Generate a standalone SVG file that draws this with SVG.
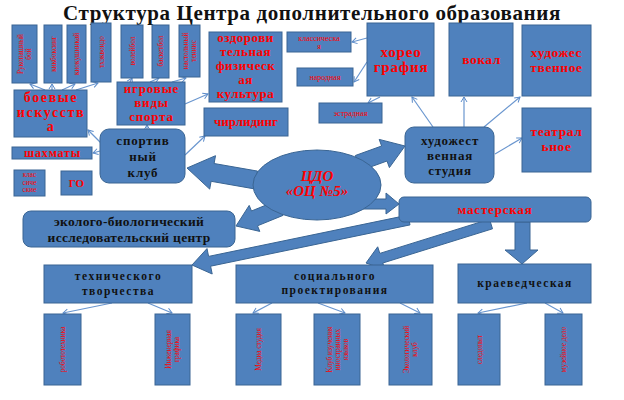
<svg xmlns="http://www.w3.org/2000/svg" width="624" height="400" viewBox="0 0 624 400">
<defs>
<marker id="ah" markerWidth="8" markerHeight="8" refX="6" refY="4" orient="auto" markerUnits="userSpaceOnUse">
<path d="M1,1 L6,4 L1,7" fill="none" stroke="#5b8bc9" stroke-width="1"/>
</marker>
<style>
.b{fill:#4f81bd;stroke:#3a6593;stroke-width:1}
.ba{fill:#4f81bd;stroke:#3a6593;stroke-width:1}
.c{fill:none;stroke:#6a96cf;stroke-width:1.2;marker-end:url(#ah)}
.r{font-family:"Liberation Serif","DejaVu Serif",serif;font-weight:bold;fill:#ff0000;text-anchor:middle}
.k{font-family:"Liberation Serif","DejaVu Serif",serif;font-weight:bold;fill:#111111;text-anchor:middle}
.s{font-family:"Liberation Serif","DejaVu Serif",serif;fill:#ff0000;text-anchor:middle;font-size:7.3px}
.h{font-family:"Liberation Serif","DejaVu Serif",serif;fill:#ff0000;text-anchor:middle;font-size:8px}
</style>
</defs>
<rect width="624" height="400" fill="#ffffff"/>
<text x="312" y="20" class="k" font-size="21" letter-spacing="0.6">Структура Центра дополнительного образования</text>

<g id="connectors">
<line class="c" x1="45" y1="90" x2="30" y2="84"/>
<line class="c" x1="52" y1="90" x2="52" y2="84"/>
<line class="c" x1="62" y1="90" x2="75" y2="84"/>
<line class="c" x1="76" y1="90" x2="98" y2="83"/>
<line class="c" x1="130" y1="82" x2="132" y2="78"/>
<line class="c" x1="150" y1="82" x2="159" y2="78"/>
<line class="c" x1="172" y1="82" x2="186" y2="78"/>
<line class="c" x1="104" y1="146" x2="88" y2="130"/>
<line class="c" x1="147" y1="129" x2="147" y2="125"/>
<line class="c" x1="185" y1="104" x2="208" y2="94"/>
<line class="c" x1="185" y1="155" x2="205" y2="136"/>
<line class="c" x1="100" y1="151" x2="93" y2="153"/>
<line class="c" x1="367" y1="38" x2="352" y2="42"/>
<line class="c" x1="367" y1="62" x2="354" y2="82"/>
<line class="c" x1="380" y1="97" x2="368" y2="103"/>
<line class="c" x1="433" y1="127" x2="412" y2="97"/>
<line class="c" x1="464" y1="127" x2="464" y2="97"/>
<line class="c" x1="484" y1="127" x2="520" y2="97"/>
<line class="c" x1="495" y1="154" x2="522" y2="138"/>
<line class="c" x1="112" y1="303" x2="63" y2="313"/>
<line class="c" x1="148" y1="303" x2="172" y2="313"/>
<line class="c" x1="272" y1="303" x2="253" y2="313"/>
<line class="c" x1="318" y1="303" x2="345" y2="313"/>
<line class="c" x1="400" y1="303" x2="420" y2="313"/>
<line class="c" x1="527" y1="303" x2="478" y2="313"/>
<line class="c" x1="545" y1="303" x2="563" y2="313"/>
<polygon class="ba" points="257.5,171.1 214.1,163.5 215.5,155.7 187,168 209.7,189.1 211.1,181.3 254.5,188.9"/>
<polygon class="ba" points="355.3,155.5 381.6,146 379.2,139.4 405,146 389.4,167.6 387,161 360.7,170.5"/>
<polygon class="ba" points="360,199 386,199 386,193 399,204 386,214 386,209 360,209"/>
<polygon class="ba" points="283,215.4 257.5,225.8 259.8,231.4 236,226 249.2,205.4 251.5,211 277,200.6"/>
<polygon class="ba" points="410,224.9 210.6,266.2 212.2,274 192,265 207,248.6 208.6,256.4 408,215.1"/>
<polygon class="ba" points="492.5,228.8 382.8,263 384.9,269.6 366,263 377.7,246.8 379.8,253.4 489.5,219.2"/>
<polygon class="ba" points="515,222 530,222 530,250 538,250 522,264 505,250 515,250"/>
</g>

<g id="n-ruk"><rect class="b" x="12" y="25" width="25" height="58"/>
<text class="s" transform="translate(24.5,54) rotate(-90)"><tspan x="0" y="-1.5">Рукопашный</tspan><tspan x="0" y="6.5">бой</tspan></text></g>
<g id="n-kik"><rect class="b" x="44" y="25" width="18" height="58"/>
<text class="s" transform="translate(53,54) rotate(-90)"><tspan x="0" y="2.5">кикбоксинг</tspan></text></g>
<g id="n-kio"><rect class="b" x="67" y="25" width="19" height="58"/>
<text class="s" transform="translate(76.5,54) rotate(-90)"><tspan x="0" y="2.5">киокушинкай</tspan></text></g>
<g id="n-tkh"><rect class="b" x="91" y="23" width="20" height="59"/>
<text class="s" transform="translate(101,52) rotate(-90)"><tspan x="0" y="2.5">тхэквондо</tspan></text></g>
<g id="n-vol"><rect class="b" x="121" y="25" width="22" height="53"/>
<text class="s" transform="translate(132,51) rotate(-90)"><tspan x="0" y="2.5">волейбол</tspan></text></g>
<g id="n-bas"><rect class="b" x="152" y="25" width="17" height="53"/>
<text class="s" transform="translate(160.5,51) rotate(-90)"><tspan x="0" y="2.5">баскетбол</tspan></text></g>
<g id="n-ten"><rect class="b" x="179" y="25" width="21" height="52"/>
<text class="s" transform="translate(189.5,51) rotate(-90)"><tspan x="0" y="-1.5">настольный</tspan><tspan x="0" y="6.5">теннис</tspan></text></g>

<g id="n-boev"><rect class="b" x="14" y="90" width="73" height="47"/>
<text class="r" font-size="14" letter-spacing="1.6"><tspan x="51" y="102">боевые</tspan><tspan x="51" y="117">искусств</tspan><tspan x="51" y="131">а</tspan></text></g>
<g id="n-igr"><rect class="b" x="117" y="82" width="68" height="43"/>
<text class="r" font-size="13" letter-spacing="0.8"><tspan x="151.5" y="93">игровые</tspan><tspan x="151.5" y="107">виды</tspan><tspan x="151.5" y="121">спорта</tspan></text></g>
<g id="n-ozd"><rect class="b" x="209" y="32" width="73" height="70"/>
<text class="r" font-size="13" letter-spacing="0.5"><tspan x="245.5" y="42">оздорови</tspan><tspan x="245.5" y="56">тельная</tspan><tspan x="245.5" y="70">физическ</tspan><tspan x="245.5" y="84">ая</tspan><tspan x="245.5" y="98">культура</tspan></text></g>
<g id="n-chir"><rect class="b" x="204" y="108" width="84" height="28"/>
<text class="r" font-size="13" x="246" y="126">чирлидинг</text></g>
<g id="n-klas"><rect class="b" x="287" y="32" width="64" height="20"/>
<text class="h"><tspan x="319" y="41">классическа</tspan><tspan x="319" y="49">я</tspan></text></g>
<g id="n-nar"><rect class="b" x="297" y="68" width="56" height="18"/>
<text class="h" x="325" y="80">народная</text></g>
<g id="n-est"><rect class="b" x="319" y="103" width="63" height="20"/>
<text class="h" x="350.5" y="116">эстрадная</text></g>
<g id="n-hor"><rect class="b" x="367" y="23" width="67" height="73"/>
<text class="r" font-size="15" letter-spacing="0.8"><tspan x="401" y="57">хорео</tspan><tspan x="401" y="72">графия</tspan></text></g>
<g id="n-vok"><rect class="b" x="449" y="23" width="64" height="73"/>
<text class="r" font-size="13.5" letter-spacing="0.5" x="481.5" y="64">вокал</text></g>
<g id="n-hud"><rect class="b" x="522" y="25" width="69" height="71"/>
<text class="r" font-size="13.5" letter-spacing="0.6"><tspan x="556.5" y="57">художес</tspan><tspan x="556.5" y="72">твенное</tspan></text></g>
<g id="n-teat"><rect class="b" x="522" y="108" width="69" height="64"/>
<text class="r" font-size="13.5" letter-spacing="0.6"><tspan x="556.5" y="136">театрал</tspan><tspan x="556.5" y="151">ьное</tspan></text></g>
<g id="n-studio"><rect class="b" x="405" y="127" width="89" height="56" rx="9"/>
<text class="k" font-size="13" letter-spacing="0.8"><tspan x="450" y="145">художест</tspan><tspan x="450" y="160">венная</tspan><tspan x="450" y="175">студия</tspan></text></g>
<g id="n-sport"><rect class="b" x="100" y="129" width="85" height="54" rx="9"/>
<text class="k" font-size="13" letter-spacing="0.8"><tspan x="143" y="145">спортив</tspan><tspan x="143" y="161">ный</tspan><tspan x="143" y="177">клуб</tspan></text></g>
<g id="n-shah"><rect class="b" x="12" y="147" width="80" height="12"/>
<text class="r" font-size="12" letter-spacing="0.8" x="52.5" y="157">шахматы</text></g>
<g id="n-klass"><rect class="b" x="14" y="170" width="31" height="26"/>
<text class="s" font-size="5.8"><tspan x="29.5" y="176.8">клас</tspan><tspan x="29.5" y="184.6">сиче</tspan><tspan x="29.5" y="192.4">ские</tspan></text></g>
<g id="n-go"><rect class="b" x="61" y="171" width="31" height="24"/>
<text class="r" font-size="11" x="76.5" y="187">ГО</text></g>
<g id="n-eco"><rect class="b" x="23" y="211" width="212" height="36" rx="8"/>
<text class="k" font-size="13.5" letter-spacing="0.3"><tspan x="129" y="226">эколого-биологический</tspan><tspan x="129" y="242">исследовательский центр</tspan></text></g>
<g id="n-cdo"><ellipse class="b" cx="317" cy="185" rx="64" ry="35"/>
<text class="r" font-size="15" font-style="italic"><tspan x="317" y="181">ЦДО</tspan><tspan x="317" y="196">«ОЦ №5»</tspan></text></g>
<g id="n-mast"><rect class="b" x="399" y="197" width="192" height="25" rx="5"/>
<text class="r" font-size="13" letter-spacing="0.8" x="495" y="214">мастерская</text></g>
<g id="n-tech"><rect class="b" x="44" y="265" width="148" height="38"/>
<text class="k" font-size="11.5" letter-spacing="1.5"><tspan x="118.5" y="280">технического</tspan><tspan x="118.5" y="295">творчества</tspan></text></g>
<g id="n-soc"><rect class="b" x="236" y="265" width="197" height="38"/>
<text class="k" font-size="11.5" letter-spacing="1.5"><tspan x="335" y="280">социального</tspan><tspan x="335" y="294">проектирования</tspan></text></g>
<g id="n-krai"><rect class="b" x="458" y="264" width="133" height="39"/>
<text class="k" font-size="11.5" letter-spacing="1.5" x="525" y="287">краеведческая</text></g>

<g id="n-robo"><rect class="b" x="44" y="314" width="37" height="71"/>
<text class="s" transform="translate(62.5,349.5) rotate(-90)"><tspan x="0" y="2.5">робототехника</tspan></text></g>
<g id="n-ing"><rect class="b" x="155" y="314" width="35" height="71"/>
<text class="s" transform="translate(172.5,349.5) rotate(-90)"><tspan x="0" y="-1.5">Инженерная</tspan><tspan x="0" y="6.5">графика</tspan></text></g>
<g id="n-media"><rect class="b" x="236" y="314" width="45" height="71"/>
<text class="s" transform="translate(258.5,349.5) rotate(-90)"><tspan x="0" y="2.5">Медиа студия</tspan></text></g>
<g id="n-club"><rect class="b" x="314" y="314" width="46" height="71"/>
<text class="s" transform="translate(337,349.5) rotate(-90)"><tspan x="0" y="-5.5">Клуб изучения</tspan><tspan x="0" y="2.5">иностранных</tspan><tspan x="0" y="10.5">языков</tspan></text></g>
<g id="n-ecoclub"><rect class="b" x="389" y="314" width="43" height="71"/>
<text class="s" transform="translate(410.5,349.5) rotate(-90)"><tspan x="0" y="-1.5">Экологический</tspan><tspan x="0" y="6.5">клуб</tspan></text></g>
<g id="n-sled"><rect class="b" x="458" y="314" width="42" height="71"/>
<text class="s" transform="translate(479,349.5) rotate(-90)"><tspan x="0" y="2.5">следопыт</tspan></text></g>
<g id="n-muz"><rect class="b" x="545" y="314" width="37" height="71"/>
<text class="s" transform="translate(563.5,349.5) rotate(-90)"><tspan x="0" y="2.5">музейное дело</tspan></text></g>
</svg>
